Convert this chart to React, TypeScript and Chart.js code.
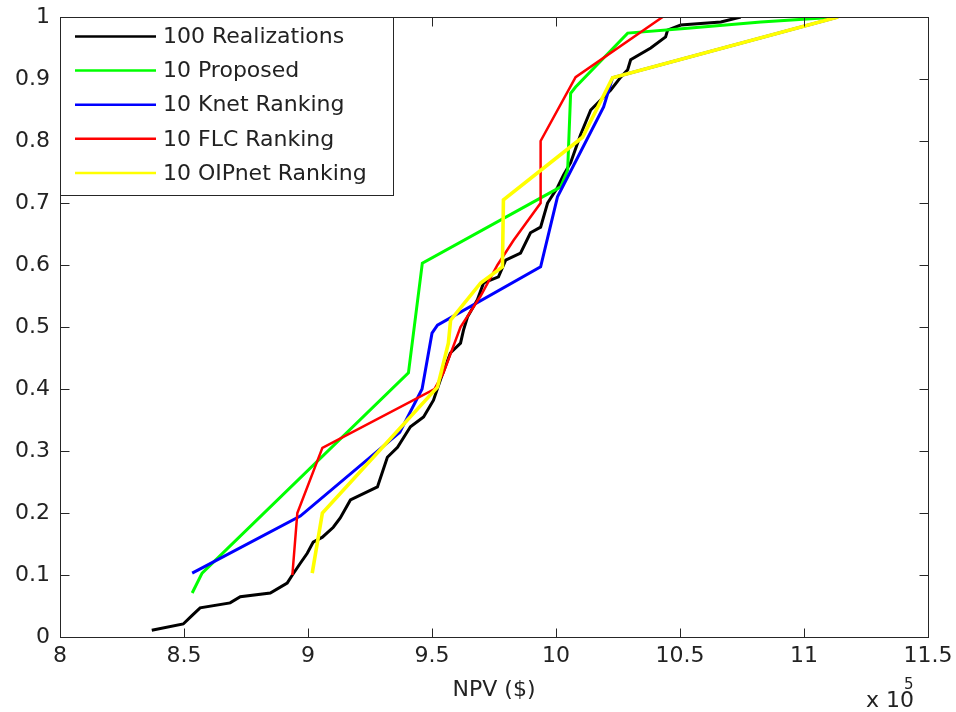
import React, { useEffect, useRef } from "react";
import { Chart, registerables } from "chart.js";

Chart.register(...registerables);

const xTicks = [8, 8.5, 9, 9.5, 10, 10.5, 11, 11.5];
const yTicks = [0, 0.1, 0.2, 0.3, 0.4, 0.5, 0.6, 0.7, 0.8, 0.9, 1];

const seriesLabels = ["100 Realizations", "10 Proposed", "10 Knet Ranking", "10 FLC Ranking", "10 OIPnet Ranking"];
const seriesColors = ["#000000", "#00ff00", "#0000ff", "#ff0000", "#ffff00"];

const realizationsX = [8.37, 8.497, 8.533, 8.565, 8.686, 8.727, 8.848, 8.916, 8.937, 8.969, 8.997, 9.021, 9.058, 9.102, 9.13, 9.171, 9.28, 9.32, 9.361, 9.413, 9.466, 9.506, 9.534, 9.574, 9.615, 9.627, 9.643, 9.683, 9.708, 9.768, 9.797, 9.857, 9.897, 9.938, 9.966, 10.006, 10.03, 10.059, 10.099, 10.14, 10.22, 10.261, 10.289, 10.301, 10.382, 10.442, 10.45, 10.503, 10.665, 10.745];
const realizationsY = [0.011, 0.021, 0.035, 0.047, 0.055, 0.065, 0.071, 0.087, 0.1, 0.119, 0.135, 0.153, 0.161, 0.177, 0.192, 0.221, 0.242, 0.29, 0.306, 0.339, 0.355, 0.382, 0.415, 0.458, 0.474, 0.495, 0.516, 0.544, 0.571, 0.581, 0.608, 0.619, 0.652, 0.661, 0.7, 0.725, 0.745, 0.765, 0.81, 0.85, 0.882, 0.903, 0.915, 0.931, 0.95, 0.968, 0.979, 0.987, 0.992, 1.0];

const proposedX = [8.533, 8.573, 9.405, 9.461, 10.019, 10.047, 10.059, 10.079, 10.289, 10.531, 10.826, 11.137];
const proposedY = [0.071, 0.103, 0.426, 0.603, 0.726, 0.753, 0.877, 0.887, 0.974, 0.982, 0.992, 1.0];

const knetX = [8.533, 8.969, 9.37, 9.46, 9.5, 9.522, 9.938, 10.006, 10.192, 10.228, 11.137];
const knetY = [0.103, 0.195, 0.33, 0.4, 0.49, 0.503, 0.597, 0.71, 0.855, 0.902, 1.0];

const flcX = [8.937, 8.957, 9.058, 9.51, 9.546, 9.615, 9.696, 9.764, 9.829, 9.938, 9.938, 10.079, 10.43];
const flcY = [0.1, 0.2, 0.305, 0.4, 0.426, 0.5, 0.55, 0.6, 0.64, 0.7, 0.8, 0.903, 1.0];

const oipX = [9.017, 9.058, 9.522, 9.566, 9.575, 9.696, 9.784, 9.788, 10.107, 10.228, 11.137];
const oipY = [0.103, 0.2, 0.403, 0.474, 0.511, 0.571, 0.597, 0.705, 0.806, 0.902, 1.0];

const seriesX = [realizationsX, proposedX, knetX, flcX, oipX];
const seriesY = [realizationsY, proposedY, knetY, flcY, oipY];
const lineWidths = [3, 3, 3, 2.5, 3.6];

const FONT = "DejaVu Sans";

const overlay = {
  id: "overlay",
  afterDatasetsDraw(chart: any) {
    const { ctx, chartArea: a, scales } = chart;
    ctx.save();
    ctx.strokeStyle = "#262626";
    ctx.lineWidth = 1;
    const l = Math.round(a.left) + 0.5;
    const t = Math.round(a.top) + 0.5;
    const r = Math.round(a.right) + 0.5;
    const b = Math.round(a.bottom) + 0.5;
    ctx.strokeRect(l, t, r - l, b - t);
    const L = 9;
    ctx.beginPath();
    scales.x.ticks.forEach((tk: any) => {
      const px = Math.round(scales.x.getPixelForValue(tk.value)) + 0.5;
      ctx.moveTo(px, b);
      ctx.lineTo(px, b - L);
      ctx.moveTo(px, t);
      ctx.lineTo(px, t + L);
    });
    scales.y.ticks.forEach((tk: any) => {
      const py = Math.round(scales.y.getPixelForValue(tk.value)) + 0.5;
      ctx.moveTo(l, py);
      ctx.lineTo(l + L, py);
      ctx.moveTo(r, py);
      ctx.lineTo(r - L, py);
    });
    ctx.stroke();

    // legend
    const bx = l, by = t, bw = 333, bh = 178;
    ctx.fillStyle = "#ffffff";
    ctx.fillRect(bx, by, bw, bh);
    ctx.strokeStyle = "#262626";
    ctx.strokeRect(bx, by, bw, bh);
    ctx.font = `22px "${FONT}"`;
    ctx.textBaseline = "middle";
    ctx.textAlign = "left";
    chart.data.datasets.forEach((ds: any, i: number) => {
      const y = 36.5 + i * 34.1;
      ctx.strokeStyle = ds.borderColor;
      ctx.lineWidth = 2.5;
      ctx.beginPath();
      ctx.moveTo(75, y);
      ctx.lineTo(156, y);
      ctx.stroke();
      ctx.fillStyle = "#222";
      ctx.fillText(ds.label, 163, y + 1);
    });

    // x 10^5
    ctx.fillStyle = "#222";
    ctx.textBaseline = "alphabetic";
    ctx.font = `22px "${FONT}"`;
    ctx.fillText("x 10", 866, 707);
    ctx.font = `15px "${FONT}"`;
    ctx.fillText("5", 904, 689);
    ctx.restore();
  },
};

export default function App() {
  const ref = useRef<HTMLCanvasElement | null>(null);
  useEffect(() => {
    if (!ref.current) return;
    const datasets = seriesLabels.map((label, i) => ({
      label,
      data: seriesX[i].map((x, j) => ({ x, y: seriesY[i][j] })),
      borderColor: seriesColors[i],
      backgroundColor: seriesColors[i],
      borderWidth: lineWidths[i],
      pointRadius: 0,
      tension: 0,
      fill: false,
      order: seriesLabels.length - i,
    }));
    const chart = new Chart(ref.current, {
      type: "line",
      data: { datasets },
      plugins: [overlay],
      options: {
        animation: false,
        responsive: false,
        layout: { padding: { left: 0, right: 28, top: 17, bottom: 0 }, autoPadding: false } as any,
        plugins: { legend: { display: false }, tooltip: { enabled: false } },
        scales: {
          x: {
            type: "linear",
            min: 8,
            max: 11.5,
            afterBuildTicks: (s: any) => {
              s.ticks = xTicks.map((v) => ({ value: v }));
            },
            afterFit: (s: any) => {
              s.height = 75;
              s.paddingLeft = 0;
              s.paddingRight = 0;
            },
            ticks: {
              autoSkip: false,
              maxRotation: 0,
              padding: 6,
              color: "#222",
              font: { family: FONT, size: 22 },
              callback: (v: any) => String(v),
            },
            grid: { display: false, drawTicks: false },
            border: { display: false },
            title: {
              display: true,
              text: "NPV ($)",
              color: "#222",
              font: { family: FONT, size: 22 },
              padding: { top: 0, bottom: 9 },
            },
          },
          y: {
            type: "linear",
            min: 0,
            max: 1,
            afterBuildTicks: (s: any) => {
              s.ticks = yTicks.map((v) => ({ value: v }));
            },
            afterFit: (s: any) => {
              s.width = 60;
              s.paddingTop = 0;
              s.paddingBottom = 0;
            },
            ticks: {
              autoSkip: false,
              padding: 10,
              color: "#222",
              font: { family: FONT, size: 22 },
              callback: (v: any) => String(Math.round(v * 10) / 10),
            },
            grid: { display: false, drawTicks: false },
            border: { display: false },
          },
        },
      },
    });
    return () => chart.destroy();
  }, []);
  return (
    <div style={{ position: "fixed", left: 0, top: 0, width: 956, height: 712, background: "#fff" }}>
      <canvas ref={ref} width={956} height={712} style={{ display: "block", width: 956, height: 712 }} />
    </div>
  );
}
